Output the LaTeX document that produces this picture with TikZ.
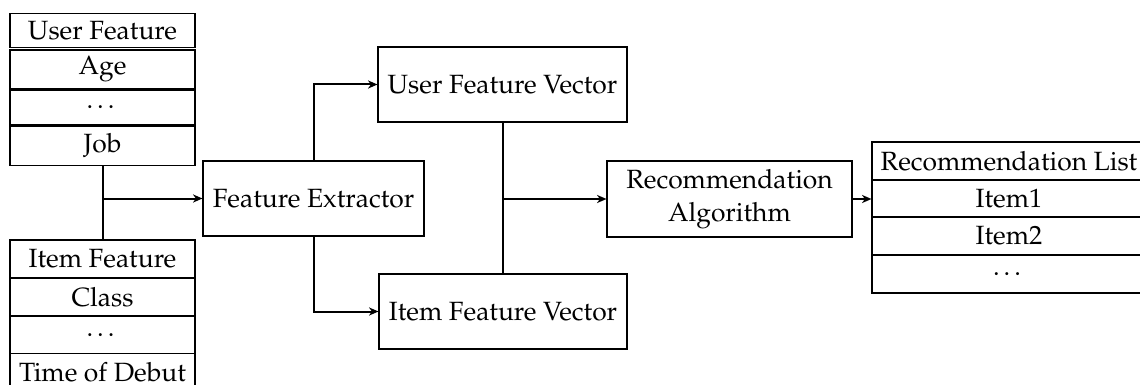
\documentclass[tikz,border=0pt]{standalone}
\usepackage[T1]{fontenc}
\usepackage{mathpazo}
\usetikzlibrary{arrows.meta}
\newcommand\px{0.75pt}
\begin{document}
\begin{tikzpicture}[x=0.75pt, y=-0.75pt,
  font=\fontsize{19.8}{24.5}\selectfont,
  box/.style={draw, line width=0.8pt, inner sep=0pt, align=center},
  sized/.style 2 args={box, minimum width=#1*\px, minimum height=#2*\px},
  link/.style={line width=1.5pt},
  flow/.style={link, -{Stealth[length=7pt, width=6pt, inset=2pt]}}]
\useasboundingbox (0,0) rectangle (1140,385);
\clip (0,0) rectangle (1140,385);

% user feature table (rows drawn as separate boxes)
\node[sized={185}{34.4}] (uf0) at (102.5,30.5)   {User Feature};
\node[sized={185}{39}]   (uf1) at (102.5,69.5)   {Age};
\node[sized={185}{33.6}] (uf2) at (102.5,107.5)  {\ldots};
\node[sized={185}{39.7}] (uf3) at (102.5,145.85) {Job};

% item feature table
\node[sized={185}{38}]   (if1) at (102.5,259)    {Item Feature};
\node[sized={185}{38}]   (if2) at (102.5,297)    {Class};
\node[sized={185}{37.5}] (if3) at (102.5,334.75) {\ldots};
\node[sized={185}{38}]   (if4) at (102.5,372.5)  {Time of Debut};

% processing blocks
\node[sized={221}{75}] (fe)  at (313.5,198.5) {Feature Extractor};
\node[sized={249}{75}] (ufv) at (502.5,84.5)  {User Feature Vector};
\node[sized={248}{75}] (ifv) at (503,311.5)   {Item Feature Vector};
\node[sized={245}{76}] (ra)  at (729.5,199)   {Recommendation\\Algorithm};

% recommendation list table
\node[sized={274}{38}] (rl0) at (1009,161)   {Recommendation List};
\node[sized={274}{37}] (rl1) at (1009,198.5) {Item1};
\node[sized={274}{38}] (rl2) at (1009,236)   {Item2};
\node[sized={274}{38}] (rl3) at (1009,274)   {\ldots};

% connectors
\coordinate (j1) at (uf3.south |- fe.west);
\draw[link] (uf3.south) -- (if1.north);
\draw[flow] (j1) -- (fe.west);

\draw[flow] (fe.north) |- (ufv.west);
\draw[flow] (fe.south) |- (ifv.west);

\coordinate (j2) at (ufv.south |- ra.west);
\draw[link] (ufv.south) -- (ifv.north -| ufv.south);
\draw[flow] (j2) -- (ra.west);

\coordinate (rlin) at (rl0.west |- ra.east);
\draw[flow] (ra.east) -- (rlin);
\end{tikzpicture}
\end{document}
